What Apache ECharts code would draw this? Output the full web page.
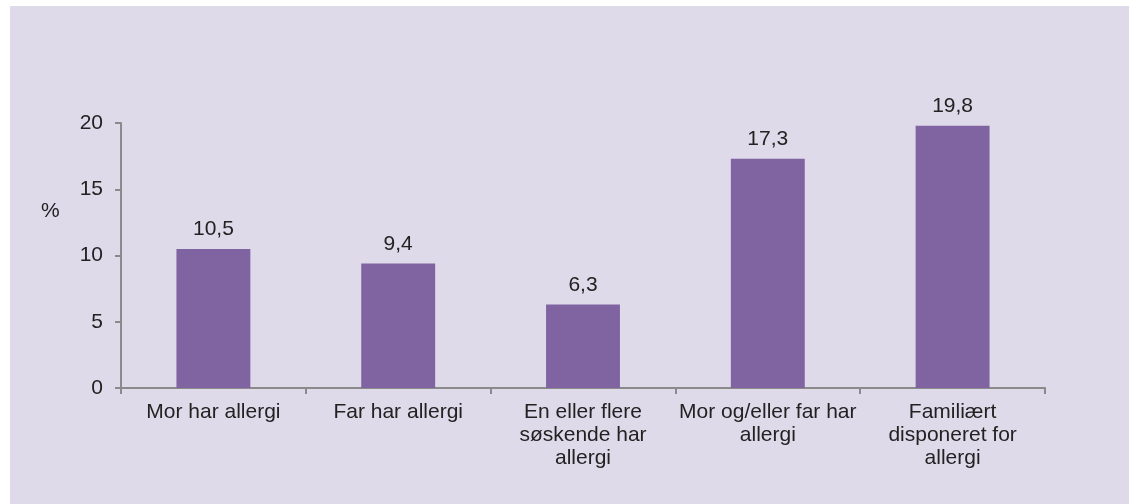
<!DOCTYPE html>
<html>
<head>
<meta charset="UTF-8">
<title>Allergi i familien</title>
<script src="https://cdn.jsdelivr.net/npm/echarts@6/dist/echarts.min.js"></script>
<style>
html, body {
	margin: 0;
	padding: 0;
	background: #ffffff;
}

#main {
	position: absolute;
	left: 10px;
	top: 6px;
	width: 1119px;
	height: 498px;
	background: #dfdae9;
}
</style>
</head>
<body>
	<div id="main"></div>
	<script>
		// data
		var categories = [ 'Mor har allergi', 'Far har allergi',
				'En eller flere\nsøskende har\nallergi',
				'Mor og/eller far har\nallergi',
				'Familiært\ndisponeret for\nallergi' ];
		var values = [ 10.5, 9.4, 6.3, 17.3, 19.8 ];
		var yTicks = [ 0, 5, 10, 15, 20 ];

		var axisGrey = '#8a8a8a';
		var textColor = '#222222';
		var font = 'Liberation Sans, Arial, sans-serif';

		var myChart = echarts.init(document.getElementById('main'));
		var option = {
			animation : false,
			textStyle : {
				fontFamily : font
			},
			graphic : [ {
				type : 'text',
				left : 31,
				top : 195,
				style : {
					text : '%',
					fontSize : 21,
					fontFamily : font,
					fill : textColor
				}
			} ],
			grid : {
				left : 111,
				right : 84,
				top : 117,
				bottom : 116
			},
			xAxis : {
				type : 'category',
				data : categories,
				axisLine : {
					lineStyle : {
						color : axisGrey,
						width : 2
					}
				},
				axisTick : {
					show : true,
					length : 6,
					lineStyle : {
						color : axisGrey,
						width : 2
					}
				},
				axisLabel : {
					interval : 0,
					margin : 13,
					fontSize : 21,
					lineHeight : 23,
					color : textColor,
					fontFamily : font
				}
			},
			yAxis : {
				type : 'value',
				min : yTicks[0],
				max : yTicks[yTicks.length - 1],
				interval : 5,
				splitLine : {
					show : false
				},
				axisLine : {
					show : true,
					lineStyle : {
						color : axisGrey,
						width : 2
					}
				},
				axisTick : {
					show : true,
					length : 6,
					lineStyle : {
						color : axisGrey,
						width : 2
					}
				},
				axisLabel : {
					margin : 18,
					fontSize : 21,
					color : textColor,
					fontFamily : font
				}
			},
			series : [ {
				type : 'bar',
				data : values,
				barWidth : '40%',
				itemStyle : {
					color : '#8064a2'
				},
				label : {
					show : true,
					position : 'top',
					distance : 9,
					fontSize : 21,
					color : textColor,
					fontFamily : font,
					formatter : function(p) {
						return p.value.toFixed(1).replace('.', ',');
					}
				}
			} ]
		};
		myChart.setOption(option);
	</script>
</body>
</html>
